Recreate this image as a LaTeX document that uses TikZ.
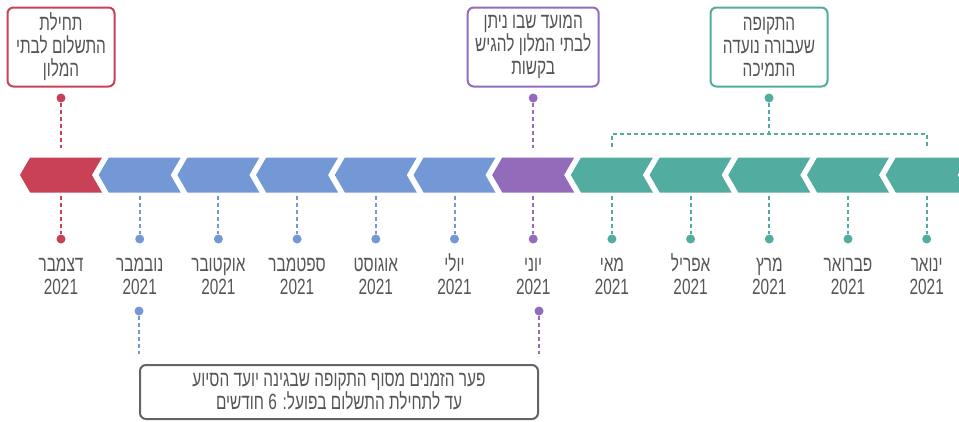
\documentclass[tikz,border=0pt]{standalone}
\usepackage{fontspec}
\usepackage{tikz}
\usetikzlibrary{shapes.symbols,positioning}
\newfontfamily\hebfont[Script=Hebrew,FakeStretch=0.7]{Liberation Sans}
\TeXXeTstate=1
\newcommand{\heb}[1]{\beginR #1\endR}
\definecolor{redc}{RGB}{200,65,87}
\definecolor{bluec}{RGB}{115,152,213}
\definecolor{purplec}{RGB}{146,108,187}
\definecolor{tealc}{RGB}{82,172,160}
\definecolor{textc}{RGB}{85,85,87}
\definecolor{boxc}{RGB}{100,100,102}

\begin{document}
\begin{tikzpicture}[
    x=1pt, y=-1pt,
    node distance=78.7pt,
    font=\hebfont\fontsize{22}{23}\selectfont,
    month/.style={
		signal,
		signal to=west,
		signal from=east,
		signal pointer angle=120,
		minimum width=82pt,
		minimum height=35pt,
		inner sep=0pt,
		outer sep=0pt
	},
	pin/.style={
		circle,
		inner sep=0pt,
		minimum size=9pt
	},
	date/.style={
		text=textc,
		align=center,
		inner sep=0pt,
		anchor=base
	},
	note/.style={
		rectangle,
		rounded corners=6pt,
		line width=2pt,
		fill=white,
		text=textc,
		align=center,
		inner sep=0pt
	},
	conn/.style={
		dash pattern=on 4pt off 3pt,
		line width=2pt
	}
  ]

\useasboundingbox (0,0) rectangle (959,421);
\clip (0,0) rectangle (959,421);

% // the months
 \node [month, fill=redc] (mDec) at (61,175) {};
 \node [month, fill=bluec, right of=mDec] (mNov) {};
 \node [month, fill=bluec, right of=mNov] (mOct) {};
 \node [month, fill=bluec, right of=mOct] (mSep) {};
 \node [month, fill=bluec, right of=mSep] (mAug) {};
 \node [month, fill=bluec, right of=mAug] (mJul) {};
 \node [month, fill=purplec, right of=mJul] (mJun) {};
 \node [month, fill=tealc, right of=mJun] (mMay) {};
 \node [month, fill=tealc, right of=mMay] (mApr) {};
 \node [month, fill=tealc, right of=mApr] (mMar) {};
 \node [month, fill=tealc, right of=mMar] (mFeb) {};
 \node [month, fill=tealc, right of=mFeb] (mJan) {};

% // dots under the months
 \node [pin, fill=redc, node distance=64pt, below of=mDec] (dDec) {};
 \node [pin, fill=bluec, node distance=64pt, below of=mNov] (dNov) {};
 \node [pin, fill=bluec, node distance=64pt, below of=mOct] (dOct) {};
 \node [pin, fill=bluec, node distance=64pt, below of=mSep] (dSep) {};
 \node [pin, fill=bluec, node distance=64pt, below of=mAug] (dAug) {};
 \node [pin, fill=bluec, node distance=64pt, below of=mJul] (dJul) {};
 \node [pin, fill=purplec, node distance=64pt, below of=mJun] (dJun) {};
 \node [pin, fill=tealc, node distance=64pt, below of=mMay] (dMay) {};
 \node [pin, fill=tealc, node distance=64pt, below of=mApr] (dApr) {};
 \node [pin, fill=tealc, node distance=64pt, below of=mMar] (dMar) {};
 \node [pin, fill=tealc, node distance=64pt, below of=mFeb] (dFeb) {};
 \node [pin, fill=tealc, node distance=64pt, below of=mJan] (dJan) {};

 \draw [conn, draw=redc, shorten <=3pt] (mDec) -- (dDec);
 \draw [conn, draw=bluec, shorten <=3pt] (mNov) -- (dNov);
 \draw [conn, draw=bluec, shorten <=3pt] (mOct) -- (dOct);
 \draw [conn, draw=bluec, shorten <=3pt] (mSep) -- (dSep);
 \draw [conn, draw=bluec, shorten <=3pt] (mAug) -- (dAug);
 \draw [conn, draw=bluec, shorten <=3pt] (mJul) -- (dJul);
 \draw [conn, draw=purplec, shorten <=3pt] (mJun) -- (dJun);
 \draw [conn, draw=tealc, shorten <=3pt] (mMay) -- (dMay);
 \draw [conn, draw=tealc, shorten <=3pt] (mApr) -- (dApr);
 \draw [conn, draw=tealc, shorten <=3pt] (mMar) -- (dMar);
 \draw [conn, draw=tealc, shorten <=3pt] (mFeb) -- (dFeb);
 \draw [conn, draw=tealc, shorten <=3pt] (mJan) -- (dJan);

% // month names
 \node [date] (lDec) at ([yshift=-55pt]dDec) {\heb{דצמבר}\\2021};
 \node [date] (lNov) at ([yshift=-55pt]dNov) {\heb{נובמבר}\\2021};
 \node [date] (lOct) at ([yshift=-55pt]dOct) {\heb{אוקטובר}\\2021};
 \node [date] (lSep) at ([yshift=-55pt]dSep) {\heb{ספטמבר}\\2021};
 \node [date] (lAug) at ([yshift=-55pt]dAug) {\heb{אוגוסט}\\2021};
 \node [date] (lJul) at ([yshift=-55pt]dJul) {\heb{יולי}\\2021};
 \node [date] (lJun) at ([yshift=-55pt]dJun) {\heb{יוני}\\2021};
 \node [date] (lMay) at ([yshift=-55pt]dMay) {\heb{מאי}\\2021};
 \node [date] (lApr) at ([yshift=-55pt]dApr) {\heb{אפריל}\\2021};
 \node [date] (lMar) at ([yshift=-55pt]dMar) {\heb{מרץ}\\2021};
 \node [date] (lFeb) at ([yshift=-55pt]dFeb) {\heb{פברואר}\\2021};
 \node [date] (lJan) at ([yshift=-55pt]dJan) {\heb{ינואר}\\2021};

% // the notes on top
 \node [pin, fill=redc, node distance=77pt, above of=mDec] (tDec) {};
 \node [pin, fill=purplec, node distance=77pt, above of=mJun] (tJun) {};
 \node [pin, fill=tealc] (tSup) at (769,98) {};

 \node [note, draw=redc, minimum width=107pt, minimum height=79pt,
 node distance=51pt, above of=tDec] (nStart)
 {\heb{תחילת}\\\heb{התשלום לבתי}\\\heb{המלון}};
 \node [note, draw=purplec, minimum width=131pt, minimum height=79pt,
 node distance=51pt, above of=tJun] (nApply)
 {\heb{המועד שבו ניתן}\\\heb{לבתי המלון להגיש}\\\heb{בקשות}};
 \node [note, draw=tealc, minimum width=117pt, minimum height=79pt,
 node distance=51pt, above of=tSup] (nSupport)
 {\heb{התקופה}\\\heb{שעבורה נועדה}\\\heb{התמיכה}};

 \draw [conn, draw=redc, shorten >=10pt] (tDec) -- (mDec);
 \draw [conn, draw=purplec, shorten >=10pt] (tJun) -- (mJun);

% // bracket over the support months
 \coordinate [yshift=11pt] (bL) at (mMay.north);
 \coordinate [yshift=11pt] (bR) at (mJan.north);
 \coordinate [yshift=13pt] (bJoin) at (bL -| tSup);
 \draw [conn, draw=tealc] (tSup) -- (bJoin);
 \draw [conn, draw=tealc] (bL) |- (bJoin) -| (bR);

% // the gap
 \node [note, draw=boxc, minimum width=398pt, minimum height=54pt] (gap) at (339,392)
 {\heb{פער הזמנים מסוף התקופה שבגינה יועד הסיוע}\\\heb{עד לתחילת התשלום בפועל: 6 חודשים}};
 \node [pin, fill=bluec, yshift=53pt] (gNov) at (gap.north west) {};
 \node [pin, fill=purplec, yshift=53pt] (gJun) at (gap.north east) {};
 \draw [conn, draw=bluec, shorten >=10pt] (gNov) -- (gap.north west);
 \draw [conn, draw=purplec, shorten >=10pt] (gJun) -- (gap.north east);

\end{tikzpicture}
\end{document}
